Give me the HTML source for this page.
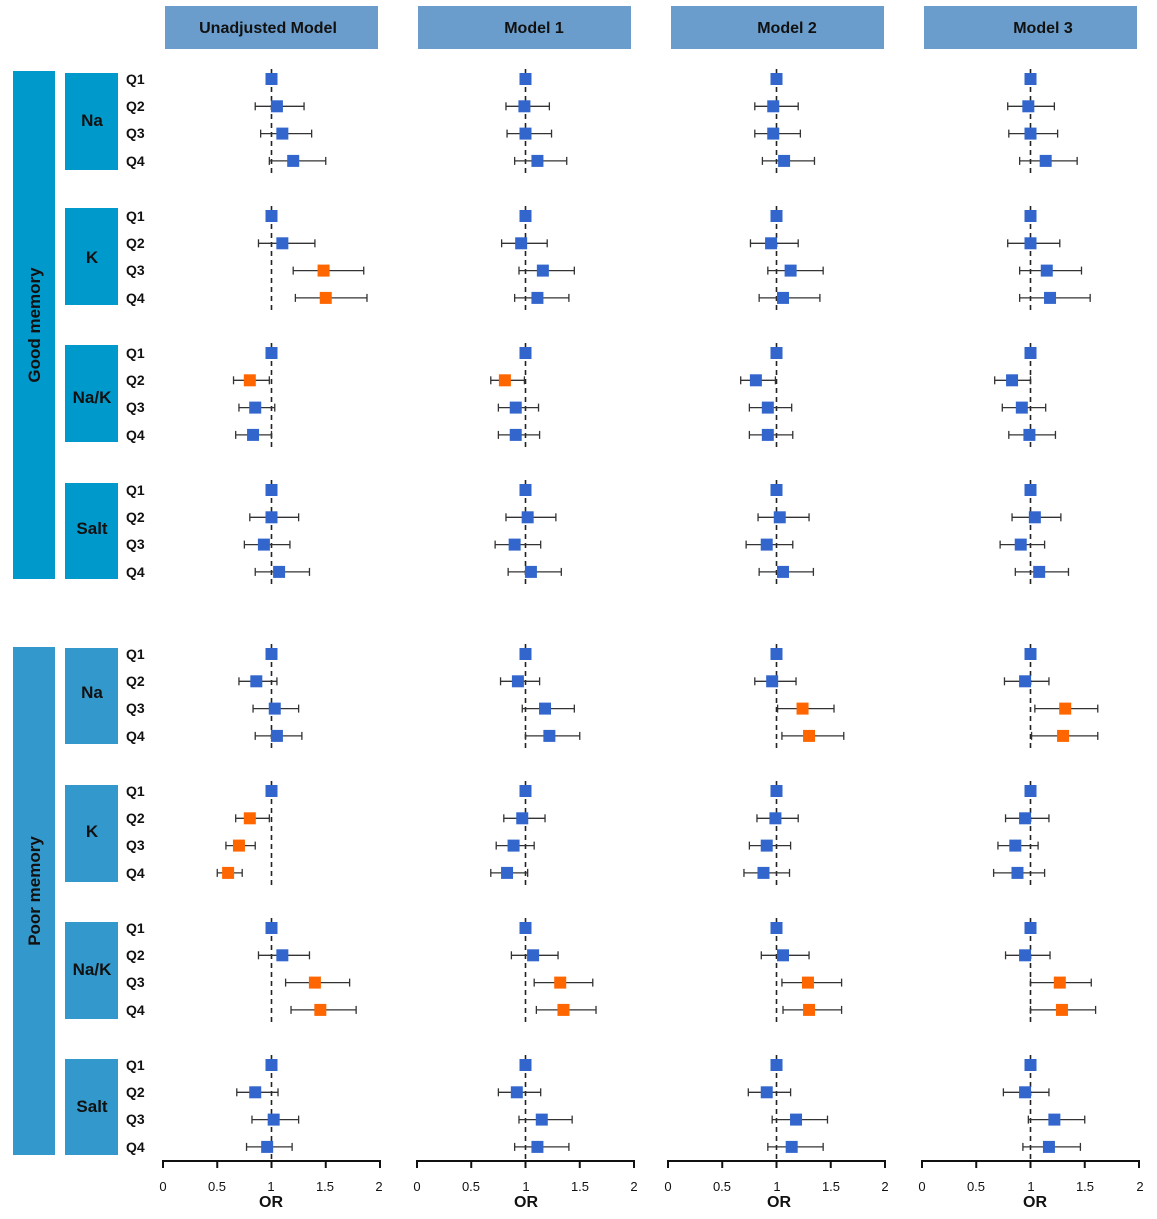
<!DOCTYPE html>
<html><head><meta charset="utf-8"><style>
html,body{margin:0;padding:0;background:#fff;}
svg{display:block;font-family:"Liberation Sans",Arial,sans-serif;}
.q{font-size:14px;font-weight:bold;fill:#111;}
.h{font-size:16px;font-weight:bold;fill:#111;text-anchor:middle;}
.g{font-size:17px;font-weight:bold;fill:#111;text-anchor:middle;}
.t{font-size:13px;fill:#111;text-anchor:middle;}
.or{font-size:16px;font-weight:bold;fill:#111;text-anchor:middle;}
</style></head><body>
<svg id="s" width="1157" height="1219" viewBox="0 0 1157 1219" xmlns="http://www.w3.org/2000/svg">
<rect x="165" y="6" width="213" height="43" fill="#6a9dcc"/>
<rect x="418" y="6" width="213" height="43" fill="#6a9dcc"/>
<rect x="671" y="6" width="213" height="43" fill="#6a9dcc"/>
<rect x="924" y="6" width="213" height="43" fill="#6a9dcc"/>
<text class="h" x="268" y="33">Unadjusted Model</text>
<text class="h" x="534" y="33">Model 1</text>
<text class="h" x="787" y="33">Model 2</text>
<text class="h" x="1043" y="33">Model 3</text>
<rect x="13" y="71" width="42" height="508" fill="#0099cc"/>
<rect x="13" y="647" width="42" height="508" fill="#3399cc"/>
<text class="g" transform="translate(40,325) rotate(-90)">Good memory</text>
<text class="g" transform="translate(40,891) rotate(-90)">Poor memory</text>
<rect x="65" y="73" width="53" height="97" fill="#0099cc"/>
<rect x="65" y="208" width="53" height="97" fill="#0099cc"/>
<rect x="65" y="345" width="53" height="97" fill="#0099cc"/>
<rect x="65" y="483" width="53" height="96" fill="#0099cc"/>
<rect x="65" y="648" width="53" height="96" fill="#3399cc"/>
<rect x="65" y="785" width="53" height="97" fill="#3399cc"/>
<rect x="65" y="922" width="53" height="97" fill="#3399cc"/>
<rect x="65" y="1059" width="53" height="96" fill="#3399cc"/>
<text class="g" x="92" y="126">Na</text>
<text class="g" x="92" y="263">K</text>
<text class="g" x="92" y="403">Na/K</text>
<text class="g" x="92" y="534">Salt</text>
<text class="g" x="92" y="698">Na</text>
<text class="g" x="92" y="837">K</text>
<text class="g" x="92" y="975">Na/K</text>
<text class="g" x="92" y="1112">Salt</text>
<g class="q">
<text x="126" y="84">Q1</text><text x="126" y="111">Q2</text><text x="126" y="138">Q3</text><text x="126" y="166">Q4</text>
<text x="126" y="221">Q1</text><text x="126" y="248">Q2</text><text x="126" y="275">Q3</text><text x="126" y="303">Q4</text>
<text x="126" y="358">Q1</text><text x="126" y="385">Q2</text><text x="126" y="412">Q3</text><text x="126" y="440">Q4</text>
<text x="126" y="495">Q1</text><text x="126" y="522">Q2</text><text x="126" y="549">Q3</text><text x="126" y="577">Q4</text>
<text x="126" y="659">Q1</text><text x="126" y="686">Q2</text><text x="126" y="713">Q3</text><text x="126" y="741">Q4</text>
<text x="126" y="796">Q1</text><text x="126" y="823">Q2</text><text x="126" y="850">Q3</text><text x="126" y="878">Q4</text>
<text x="126" y="933">Q1</text><text x="126" y="960">Q2</text><text x="126" y="987">Q3</text><text x="126" y="1015">Q4</text>
<text x="126" y="1070">Q1</text><text x="126" y="1097">Q2</text><text x="126" y="1124">Q3</text><text x="126" y="1152">Q4</text>
</g>
<g>
<text class="t" x="163" y="1191">0</text><text class="t" x="217" y="1191">0.5</text><text class="t" x="271" y="1191">1</text><text class="t" x="325" y="1191">1.5</text><text class="t" x="379" y="1191">2</text>
<text class="t" x="417" y="1191">0</text><text class="t" x="471" y="1191">0.5</text><text class="t" x="526" y="1191">1</text><text class="t" x="580" y="1191">1.5</text><text class="t" x="634" y="1191">2</text>
<text class="t" x="668" y="1191">0</text><text class="t" x="722" y="1191">0.5</text><text class="t" x="777" y="1191">1</text><text class="t" x="831" y="1191">1.5</text><text class="t" x="885" y="1191">2</text>
<text class="t" x="922" y="1191">0</text><text class="t" x="976" y="1191">0.5</text><text class="t" x="1031" y="1191">1</text><text class="t" x="1085" y="1191">1.5</text><text class="t" x="1140" y="1191">2</text>
<text class="or" x="271" y="1207">OR</text><text class="or" x="526" y="1207">OR</text><text class="or" x="779" y="1207">OR</text><text class="or" x="1035" y="1207">OR</text>
</g>
<g id="plots"></g>
</svg>
<script>
var X0=[163,417,668,922],S=108.5;
var G0=[79,216,353,490,654,791,928,1065];
var B=0,O=1;
var D=[
[[1,1,1,B],[1.05,.85,1.3,B],[1.1,.9,1.37,B],[1.2,.98,1.5,B],
 [1,1,1,B],[1.1,.88,1.4,B],[1.48,1.2,1.85,O],[1.5,1.22,1.88,O],
 [1,1,1,B],[.8,.65,.98,O],[.85,.7,1.03,B],[.83,.67,1.0,B],
 [1,1,1,B],[1.0,.8,1.25,B],[.93,.75,1.17,B],[1.07,.85,1.35,B],
 [1,1,1,B],[.86,.7,1.05,B],[1.03,.83,1.25,B],[1.05,.85,1.28,B],
 [1,1,1,B],[.8,.67,.98,O],[.7,.58,.85,O],[.6,.5,.73,O],
 [1,1,1,B],[1.1,.88,1.35,B],[1.4,1.13,1.72,O],[1.45,1.18,1.78,O],
 [1,1,1,B],[.85,.68,1.06,B],[1.02,.82,1.25,B],[.96,.77,1.19,B]],
[[1,1,1,B],[.99,.82,1.22,B],[1.0,.83,1.24,B],[1.11,.9,1.38,B],
 [1,1,1,B],[.96,.78,1.2,B],[1.16,.94,1.45,B],[1.11,.9,1.4,B],
 [1,1,1,B],[.81,.68,.99,O],[.91,.75,1.12,B],[.91,.75,1.13,B],
 [1,1,1,B],[1.02,.82,1.28,B],[.9,.72,1.14,B],[1.05,.84,1.33,B],
 [1,1,1,B],[.93,.77,1.13,B],[1.18,.97,1.45,B],[1.22,1.0,1.5,B],
 [1,1,1,B],[.97,.8,1.18,B],[.89,.73,1.08,B],[.83,.68,1.02,B],
 [1,1,1,B],[1.07,.87,1.3,B],[1.32,1.08,1.62,O],[1.35,1.1,1.65,O],
 [1,1,1,B],[.92,.75,1.14,B],[1.15,.94,1.43,B],[1.11,.9,1.4,B]],
[[1,1,1,B],[.97,.8,1.2,B],[.97,.8,1.22,B],[1.07,.87,1.35,B],
 [1,1,1,B],[.95,.76,1.2,B],[1.13,.92,1.43,B],[1.06,.84,1.4,B],
 [1,1,1,B],[.81,.67,.99,B],[.92,.75,1.14,B],[.92,.75,1.15,B],
 [1,1,1,B],[1.03,.83,1.3,B],[.91,.72,1.15,B],[1.06,.84,1.34,B],
 [1,1,1,B],[.96,.8,1.18,B],[1.24,1.01,1.53,O],[1.3,1.05,1.62,O],
 [1,1,1,B],[.99,.82,1.2,B],[.91,.75,1.13,B],[.88,.7,1.12,B],
 [1,1,1,B],[1.06,.86,1.3,B],[1.29,1.05,1.6,O],[1.3,1.06,1.6,O],
 [1,1,1,B],[.91,.74,1.13,B],[1.18,.96,1.47,B],[1.14,.92,1.43,B]],
[[1,1,1,B],[.98,.79,1.22,B],[1.0,.8,1.25,B],[1.14,.9,1.43,B],
 [1,1,1,B],[1.0,.79,1.27,B],[1.15,.9,1.47,B],[1.18,.9,1.55,B],
 [1,1,1,B],[.83,.67,1.0,B],[.92,.74,1.14,B],[.99,.8,1.23,B],
 [1,1,1,B],[1.04,.83,1.28,B],[.91,.72,1.13,B],[1.08,.86,1.35,B],
 [1,1,1,B],[.95,.76,1.17,B],[1.32,1.04,1.62,O],[1.3,1.01,1.62,O],
 [1,1,1,B],[.95,.77,1.17,B],[.86,.7,1.07,B],[.88,.66,1.13,B],
 [1,1,1,B],[.95,.77,1.18,B],[1.27,1.0,1.56,O],[1.29,1.0,1.6,O],
 [1,1,1,B],[.95,.75,1.17,B],[1.22,.98,1.5,B],[1.17,.93,1.46,B]]];
var h='';
for(var p=0;p<4;p++){var x0=X0[p];
 h+='<line x1="'+x0+'" y1="1161" x2="'+(x0+2*S)+'" y2="1161" stroke="#111" stroke-width="2"/>';
 for(var k=0;k<=4;k++){var tx=x0+k*S/2;h+='<line x1="'+tx+'" y1="1160" x2="'+tx+'" y2="1168" stroke="#111" stroke-width="2"/>';}
 for(var g=0;g<8;g++){var y0=G0[g];var vx=x0+S;
  h+='<line x1="'+vx+'" y1="'+(y0-10)+'" x2="'+vx+'" y2="'+(y0+96)+'" stroke="#222" stroke-width="1.6" stroke-dasharray="5,4"/>';
  for(var r=0;r<4;r++){var d=D[p][g*4+r];var y=y0+r*27.3;
   if(d[1]!=d[2]){var a=x0+d[1]*S,b=x0+d[2]*S;
    h+='<line x1="'+a+'" y1="'+y+'" x2="'+b+'" y2="'+y+'" stroke="#333" stroke-width="1.3"/>';
    h+='<line x1="'+a+'" y1="'+(y-4)+'" x2="'+a+'" y2="'+(y+4)+'" stroke="#333" stroke-width="1.3"/>';
    h+='<line x1="'+b+'" y1="'+(y-4)+'" x2="'+b+'" y2="'+(y+4)+'" stroke="#333" stroke-width="1.3"/>';}
   var cx=x0+d[0]*S;
   h+='<rect x="'+(cx-6)+'" y="'+(y-6)+'" width="12" height="12" fill="'+(d[3]?'#ff6600':'#3366cc')+'"/>';
  }}}
document.getElementById('plots').innerHTML=h;
</script>
</body></html>
